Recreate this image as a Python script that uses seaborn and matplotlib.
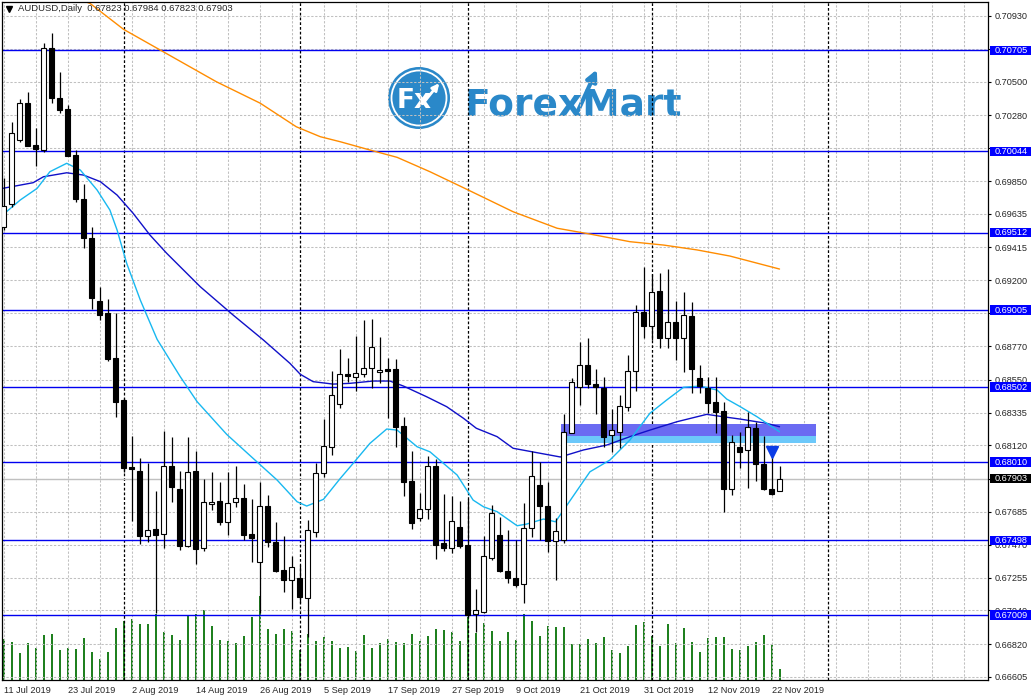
import numpy as np
import pandas as pd
import seaborn as sns
import matplotlib.pyplot as plt
from matplotlib.patches import Rectangle, Circle

# AUDUSD daily bars, 11 Jul 2019 .. 25 Nov 2019
bar_open = [0.69551, 0.69700, 0.70118, 0.70359, 0.70086, 0.70053, 0.70719, 0.70391, 0.70321, 0.70020,
            0.69730, 0.69475, 0.69065, 0.68984, 0.68690, 0.68417, 0.67980, 0.67952, 0.67529, 0.67572,
            0.67538, 0.67983, 0.67834, 0.67463, 0.67952, 0.67446, 0.67734, 0.67754, 0.67616, 0.67747,
            0.67775, 0.67538, 0.67354, 0.67723, 0.67485, 0.67304, 0.67241, 0.67250, 0.67123, 0.67555,
            0.67937, 0.68107, 0.68389, 0.68585, 0.68569, 0.68585, 0.68624, 0.68598, 0.68618, 0.68618,
            0.68247, 0.67887, 0.67642, 0.67701, 0.67985, 0.67481, 0.67450, 0.67584, 0.67468, 0.67014,
            0.67031, 0.67385, 0.67533, 0.67297, 0.67250, 0.67210, 0.67577, 0.67860, 0.67723, 0.67496,
            0.67500, 0.68203, 0.68504, 0.68644, 0.68521, 0.68497, 0.68186, 0.68209, 0.68369, 0.68605,
            0.68991, 0.68903, 0.69130, 0.68824, 0.68925, 0.68824, 0.68967, 0.68559, 0.68497, 0.68402,
            0.68345, 0.67832, 0.68109, 0.68088, 0.68232, 0.67996, 0.67832, 0.67823]
bar_high = [0.69870, 0.70238, 0.70387, 0.70431, 0.70197, 0.70755, 0.70817, 0.70565, 0.70348, 0.70053,
            0.69829, 0.69551, 0.69158, 0.69076, 0.68988, 0.68430, 0.68181, 0.68035, 0.68006, 0.67821,
            0.68214, 0.68175, 0.67952, 0.68175, 0.68083, 0.67900, 0.67944, 0.67878, 0.67944, 0.67983,
            0.67865, 0.67769, 0.67878, 0.67797, 0.67620, 0.67527, 0.67396, 0.67335, 0.67631, 0.68006,
            0.68292, 0.68607, 0.68749, 0.68690, 0.68836, 0.68940, 0.68947, 0.68827, 0.68690, 0.68683,
            0.68304, 0.68083, 0.67806, 0.68050, 0.68031, 0.67802, 0.67788, 0.67756, 0.67767, 0.67180,
            0.67527, 0.67728, 0.67649, 0.67566, 0.67500, 0.67741, 0.68083, 0.68009, 0.67878, 0.67646,
            0.68325, 0.68559, 0.68794, 0.68821, 0.68618, 0.68569, 0.68356, 0.68449, 0.68711, 0.69038,
            0.69289, 0.69241, 0.69246, 0.69274, 0.69065, 0.69122, 0.69056, 0.68644, 0.68565, 0.68569,
            0.68402, 0.68188, 0.68209, 0.68336, 0.68275, 0.68183, 0.68111, 0.67984]
bar_low = [0.69529, 0.69682, 0.70107, 0.70079, 0.69950, 0.70042, 0.70363, 0.70297, 0.70014, 0.69715,
           0.69410, 0.69012, 0.68940, 0.68674, 0.68307, 0.67947, 0.67625, 0.67474, 0.67489, 0.67021,
           0.67446, 0.67747, 0.67435, 0.67453, 0.67345, 0.67430, 0.67697, 0.67599, 0.67533, 0.67718,
           0.67500, 0.67354, 0.67021, 0.67457, 0.67293, 0.67162, 0.67049, 0.67086, 0.66868, 0.67522,
           0.67911, 0.68059, 0.68362, 0.68537, 0.68476, 0.68569, 0.68493, 0.68526, 0.68297, 0.68111,
           0.67790, 0.67572, 0.67627, 0.67638, 0.67376, 0.67430, 0.67413, 0.67446, 0.66997, 0.66900,
           0.67023, 0.67370, 0.67289, 0.67221, 0.67195, 0.67090, 0.67518, 0.67500, 0.67420, 0.67239,
           0.67481, 0.68201, 0.68384, 0.68493, 0.68325, 0.68111, 0.68078, 0.68101, 0.68347, 0.68478,
           0.68824, 0.68809, 0.68759, 0.68755, 0.68679, 0.68602, 0.68465, 0.68461, 0.68334, 0.68199,
           0.67686, 0.67795, 0.67970, 0.67843, 0.67889, 0.67828, 0.67795, 0.67823]
bar_close = [0.69688, 0.70162, 0.70359, 0.70081, 0.70062, 0.70719, 0.70395, 0.70315, 0.70016, 0.69730,
             0.69479, 0.69086, 0.68975, 0.68685, 0.68406, 0.67974, 0.67967, 0.67527, 0.67564, 0.67535,
             0.67983, 0.67849, 0.67463, 0.67944, 0.67442, 0.67747, 0.67749, 0.67620, 0.67741, 0.67773,
             0.67535, 0.67515, 0.67721, 0.67485, 0.67297, 0.67241, 0.67322, 0.67129, 0.67564, 0.67937,
             0.68116, 0.68449, 0.68585, 0.68572, 0.68591, 0.68626, 0.68762, 0.68611, 0.68609, 0.68242,
             0.67882, 0.67614, 0.67701, 0.67985, 0.67468, 0.67450, 0.67625, 0.67463, 0.67010, 0.67042,
             0.67396, 0.67675, 0.67297, 0.67250, 0.67206, 0.67577, 0.67919, 0.67725, 0.67496, 0.67559,
             0.68205, 0.68533, 0.68644, 0.68521, 0.68504, 0.68177, 0.68218, 0.68375, 0.68605, 0.68991,
             0.68903, 0.69122, 0.68824, 0.68925, 0.68824, 0.68971, 0.68618, 0.68508, 0.68399, 0.68340,
             0.67832, 0.68140, 0.68078, 0.68238, 0.67996, 0.67832, 0.67800, 0.67903]
# tick volume, thousands
tick_volume = [62, 57, 41, 56, 48, 68, 69, 45, 48, 47,
               63, 42, 32, 42, 78, 89, 92, 84, 84, 99,
               72, 68, 60, 96, 99, 105, 81, 60, 59, 56,
               66, 95, 126, 77, 69, 77, 74, 45, 69, 59,
               65, 59, 48, 50, 44, 68, 48, 56, 62, 57,
               56, 69, 59, 66, 77, 75, 72, 59, 95, 71,
               86, 74, 59, 72, 60, 99, 89, 66, 81, 80,
               80, 54, 54, 62, 56, 65, 45, 41, 51, 83,
               87, 66, 51, 84, 56, 78, 57, 42, 63, 65,
               65, 47, 45, 51, 57, 68, 53, 17]

# moving averages, sampled along the drawn lines (bar index, price)
ma_fast_x = [-0.1, 2.1, 4.2, 5.8, 7.9, 9.6, 11.7, 13.3, 14.2, 15.4, 17.1, 19.2, 22.1, 24.2, 27.9, 31.2,
             34.2, 36.7, 37.9, 40.0, 42.1, 43.7, 45.8, 47.9, 49.2, 51.7, 53.3, 56.7, 58.7, 60.0, 61.7,
             64.2, 65.4, 67.5, 69.0, 73.3, 75.8, 78.3, 80.8, 82.9, 85.0, 87.1, 89.2, 90.4, 92.1, 94.2, 97.0]
ma_fast = [0.69628, 0.69726, 0.69802, 0.69911, 0.69966, 0.69922, 0.69791, 0.69660, 0.69529, 0.69311,
           0.69071, 0.68814, 0.68569, 0.68406, 0.68192, 0.68035, 0.67893, 0.67751, 0.67723, 0.67767,
           0.67904, 0.68002, 0.68133, 0.68227, 0.68220, 0.68111, 0.68078, 0.67926, 0.67762, 0.67718,
           0.67686, 0.67594, 0.67605, 0.67638, 0.67620, 0.67947, 0.68024, 0.68155, 0.68330, 0.68417,
           0.68500, 0.68508, 0.68482, 0.68423, 0.68373, 0.68307, 0.68209]
ma_mid_x = [-0.1, 3.7, 5.0, 7.9, 10.0, 12.1, 14.2, 16.2, 18.3, 20.4, 24.6, 28.7, 32.5, 35.8, 37.1, 38.7,
            41.2, 43.3, 46.2, 48.3, 50.0, 52.9, 55.4, 57.5, 59.1, 61.7, 63.7, 66.7, 69.6, 72.5, 75.4,
            78.3, 80.8, 84.2, 87.9, 90.0, 92.1, 95.4, 97.0]
ma_mid = [0.69802, 0.69839, 0.69878, 0.69904, 0.69889, 0.69846, 0.69758, 0.69639, 0.69497, 0.69377,
          0.69158, 0.68973, 0.68809, 0.68657, 0.68585, 0.68537, 0.68521, 0.68526, 0.68541, 0.68541,
          0.68508, 0.68438, 0.68373, 0.68297, 0.68232, 0.68177, 0.68101, 0.68072, 0.68044, 0.68090,
          0.68122, 0.68177, 0.68220, 0.68275, 0.68323, 0.68307, 0.68292, 0.68264, 0.68242]
ma_slow_x = [9.6, 10.8, 15.0, 19.6, 26.6, 32.1, 36.6, 39.6, 42.1, 45.8, 49.2, 53.3, 57.9, 63.7, 69.2,
             73.3, 78.3, 82.5, 86.7, 90.8, 97.0]
ma_slow = [0.71035, 0.71013, 0.70843, 0.70707, 0.70500, 0.70359, 0.70205, 0.70140, 0.70107, 0.70053,
           0.70005, 0.69911, 0.69796, 0.69649, 0.69541, 0.69503, 0.69453, 0.69431, 0.69399, 0.69359,
           0.69274]

levels = [0.70705, 0.70044, 0.69512, 0.69005, 0.68502, 0.68010, 0.67498, 0.67009]
last_price = 0.67903
zone_top, zone_mid, zone_bottom = 0.68260, 0.68181, 0.68137
zone_start, zone_end = 69.7, 101.6
signal_bar, signal_price = 96, 0.68076
month_starts = [15, 37, 58, 81, 103]

date_labels = ['11 Jul 2019', '23 Jul 2019', '2 Aug 2019', '14 Aug 2019', '26 Aug 2019', '5 Sep 2019',
               '17 Sep 2019', '27 Sep 2019', '9 Oct 2019', '21 Oct 2019', '31 Oct 2019', '12 Nov 2019',
               '22 Nov 2019']
# scale steps; the ones covered by the level boxes are left blank
grid_prices = [0.70930, 0.70715, 0.70500, 0.70280, 0.70065, 0.69850, 0.69635, 0.69415, 0.69200, 0.68985,
               0.68770, 0.68550, 0.68335, 0.68120, 0.67900, 0.67685, 0.67470, 0.67255, 0.67040, 0.66820,
               0.66605]
price_labels = ['0.70930', '', '0.70500', '0.70280', '', '0.69850', '0.69635', '0.69415',
                '0.69200', '', '0.68770', '0.68550', '0.68335', '0.68120', '', '0.67685',
                '0.67470', '0.67255', '0.67040', '0.66820', '0.66605']
header = 'AUDUSD,Daily  0.67823 0.67984 0.67823 0.67903'

df = pd.DataFrame({'open': bar_open, 'high': bar_high, 'low': bar_low,
                   'close': bar_close, 'volume': tick_volume})
df['bar'] = np.arange(len(df))
df['up'] = df['close'] >= df['open']

sns.set_style('white')
plt.rcParams['font.family'] = ['Liberation Sans', 'DejaVu Sans']
FS = 6.6
vol_green = '#1f801f'

fig = plt.figure(figsize=(10.34, 6.98), dpi=100)
ax = fig.add_axes([2 / 1034, 18 / 698, 986 / 1034, 678 / 698])
vol_ax = ax.twinx()

# volumes in the lower part: thin bars stroked 1 px in solid green
sns.barplot(data=df, x='bar', y='volume', native_scale=True, width=0.02, color=vol_green,
            saturation=1, errorbar=None, linewidth=0.72, edgecolor=vol_green, antialiased=False,
            ax=vol_ax)
vol_ax.set_ylim(0, 1017)
vol_ax.set_yticks([])
vol_ax.set_ylabel('')
for s in vol_ax.spines.values():
    s.set_visible(False)

ax.set_zorder(vol_ax.get_zorder() + 1)
ax.patch.set_visible(False)

xlo, xhi = -0.1875, 123.06
ylo, yhi = 0.665845, 0.710216

# grid
for p in grid_prices:
    ax.axhline(p, color='#c0c0c0', lw=0.75, ls=(0, (2.2, 1.6)), zorder=0.5)
for b in range(0, 124, 4):
    ax.axvline(b, color='#c0c0c0', lw=0.75, ls=(0, (2.2, 1.6)), zorder=0.5)
for b in month_starts:
    ax.axvline(b, color='black', lw=0.9, ls=(0, (2.2, 1.6)), zorder=0.8)

# zone
ax.add_patch(Rectangle((zone_start, zone_bottom), zone_end - zone_start, zone_mid - zone_bottom,
                       facecolor='#6cc8fa', edgecolor='none', zorder=1))
ax.add_patch(Rectangle((zone_start, zone_mid), zone_end - zone_start, zone_top - zone_mid,
                       facecolor='#6b6bf2', edgecolor='none', zorder=1))

# levels
for lv in levels:
    ax.axhline(lv, color='#0000f0', lw=1.0, zorder=1.2)
ax.axhline(last_price, color='#c0c0c0', lw=1.0, zorder=1.1)

# moving averages
sns.lineplot(x=ma_slow_x, y=ma_slow, ax=ax, color='#ff8c00', lw=1, sort=False, estimator=None, zorder=2)
sns.lineplot(x=ma_mid_x, y=ma_mid, ax=ax, color='#1010c8', lw=1, sort=False, estimator=None, zorder=2)
sns.lineplot(x=ma_fast_x, y=ma_fast, ax=ax, color='#18b8f0', lw=1, sort=False, estimator=None, zorder=2)

# candles
ax.vlines(df['bar'], df['low'], df['high'], color='black', lw=0.9, zorder=3)
body_lo = np.minimum(df['open'], df['close'])
body_h = np.maximum(np.abs(df['close'] - df['open']), 0.00002)
ax.bar(df['bar'], body_h, bottom=body_lo, width=0.55,
       color=np.where(df['up'], 'white', 'black'), edgecolor='black', linewidth=0.8, zorder=4)

ax.plot(signal_bar, signal_price, marker='v', ms=8, color='#0a3ce6', zorder=6)

ax.set_xlim(xlo, xhi)
ax.set_ylim(ylo, yhi)
vol_ax.set_xlim(xlo, xhi)

# axes, ticks
ax.yaxis.tick_right()
ax.set_yticks(grid_prices)
ax.set_yticklabels(price_labels)
ax.set_xticks(range(0, 97, 8))
ax.set_xticklabels(date_labels, ha='left')
ax.tick_params(axis='x', length=2.5, width=0.8, pad=1.5, labelsize=FS, color='black')
ax.tick_params(axis='y', length=2.2, width=0.8, pad=2.6, labelsize=FS, color='black')
ax.set_xlabel('')
ax.set_ylabel('')
for s in ax.spines.values():
    s.set_visible(True)
    s.set_color('black')
    s.set_linewidth(0.9)

# price boxes on the right scale
box_h = 0.00062
for lv in levels + [last_price]:
    fc = 'black' if lv == last_price else '#0000ff'
    ax.add_patch(Rectangle((1.002, lv - box_h / 2), 0.0416, box_h, transform=ax.get_yaxis_transform(),
                           facecolor=fc, edgecolor='none', clip_on=False, zorder=10))
    ax.text(1.0071, lv, f'{lv:.5f}', transform=ax.get_yaxis_transform(), color='white', fontsize=FS,
            va='center', ha='left', clip_on=False, zorder=11)

# header
ax.plot(0.0068, 0.9897, marker='v', ms=4, color='black', transform=ax.transAxes, clip_on=False, zorder=8)
ax.text(0.0162, 0.9897, header, transform=ax.transAxes, fontsize=6.8, va='center', ha='left', zorder=8)

# logo
logo = fig.add_axes([380 / 1034, (698 - 135) / 698, 320 / 1034, 75 / 698])
logo.set_xlim(380, 700)
logo.set_ylim(135, 60)
logo.axis('off')
blue = '#2a88c9'
logo.add_patch(Circle((419, 98), 31, facecolor=blue, edgecolor='none'))
logo.add_patch(Circle((419, 98), 27.5, facecolor='none', edgecolor='white', lw=1.3))
logo.text(414, 101, 'Fx', color='white', fontsize=19, fontweight='bold', ha='center', va='center',
          family='DejaVu Sans')
logo.annotate('', xy=(441, 81), xytext=(421, 106),
              arrowprops=dict(arrowstyle='-|>', color='white', lw=2, mutation_scale=10))
logo.text(465, 116, 'ForexMart', color=blue, fontsize=27, fontweight='bold', ha='left', va='baseline',
          family='DejaVu Sans')
logo.annotate('', xy=(598, 67), xytext=(577, 113),
              arrowprops=dict(arrowstyle='-|>', color=blue, lw=3, mutation_scale=16))

fig.savefig('out.png', dpi=100)
